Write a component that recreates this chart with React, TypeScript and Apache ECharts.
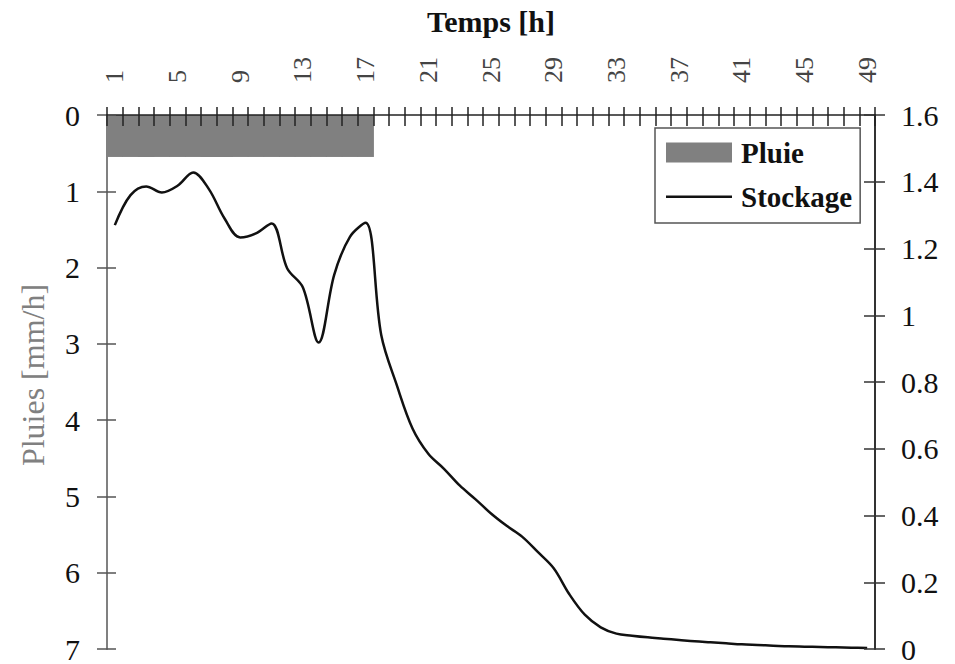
import React, { useEffect, useRef } from "react";
import * as echarts from "echarts";

const hours = [
  "1", "2", "3", "4", "5", "6", "7", "8", "9", "10",
  "11", "12", "13", "14", "15", "16", "17", "18", "19", "20",
  "21", "22", "23", "24", "25", "26", "27", "28", "29", "30",
  "31", "32", "33", "34", "35", "36", "37", "38", "39", "40",
  "41", "42", "43", "44", "45", "46", "47", "48", "49",
];

// Pluie [mm/h]
const pluie = [
  0.55, 0.55, 0.55, 0.55, 0.55, 0.55, 0.55, 0.55, 0.55, 0.55,
  0.55, 0.55, 0.55, 0.55, 0.55, 0.55, 0.55, null, null, null,
  null, null, null, null, null, null, null, null, null, null,
  null, null, null, null, null, null, null, null, null, null,
  null, null, null, null, null, null, null, null, null,
];

// Stockage
const stockage = [
  1.27, 1.36, 1.386, 1.368, 1.388, 1.428, 1.378, 1.29, 1.233, 1.245,
  1.275, 1.14, 1.083, 0.918, 1.122, 1.235, 1.277, 0.94, 0.789, 0.66,
  0.585, 0.54, 0.49, 0.449, 0.406, 0.369, 0.336, 0.29, 0.242, 0.164,
  0.102, 0.065, 0.046, 0.04, 0.035, 0.031, 0.027, 0.023, 0.02, 0.017,
  0.014, 0.012, 0.01, 0.008, 0.007, 0.006, 0.005, 0.004, 0.003,
];

const FONT = "Liberation Serif";
const LINE_ICON = "path://M0,0 L0,0 Z M0,9 L66,9 L66,11.5 L0,11.5 Z M66,20 L66,20 Z";

export default function App() {
  const ref = useRef<HTMLDivElement>(null);

  useEffect(() => {
    if (!ref.current) return;
    const chart = echarts.init(ref.current, undefined, { renderer: "svg" });
    chart.setOption({
      animation: false,
      backgroundColor: "#ffffff",
      textStyle: { fontFamily: FONT },
      grid: { left: 107, right: 80, top: 115, bottom: 13, containLabel: false },
      legend: {
        left: 655,
        top: 128,
        z: 20,
        orient: "vertical",
        padding: [10, 8, 12, 11],
        itemGap: 15,
        itemWidth: 66,
        itemHeight: 20,
        borderColor: "#555",
        borderWidth: 1.5,
        backgroundColor: "#fff",
        textStyle: {
          fontFamily: FONT,
          fontSize: 29,
          fontWeight: "bold",
          color: "#111",
          padding: [0, 0, 0, 4],
        },
        data: [
          { name: "Pluie", icon: "rect" },
          { name: "Stockage", icon: LINE_ICON, itemStyle: { color: "#111", borderWidth: 0 } },
        ],
      },
      xAxis: [
        {
          type: "category",
          position: "top",
          data: hours,
          boundaryGap: true,
          z: 10,
          name: "Temps [h]",
          nameLocation: "middle",
          nameGap: 79,
          nameTextStyle: { fontFamily: FONT, fontSize: 30, fontWeight: "bold", color: "#111" },
          axisLine: { show: true, lineStyle: { color: "#222", width: 1.5 } },
          axisTick: { show: true, interval: 0, inside: false, length: 8, lineStyle: { color: "#222", width: 1.5 } },
          axisLabel: {
            interval: 3,
            rotate: 90,
            margin: 32,
            fontFamily: FONT,
            fontSize: 26,
            color: "#444",
          },
          splitLine: { show: false },
        },
        {
          type: "category",
          position: "top",
          data: hours,
          boundaryGap: true,
          z: 10,
          axisLine: { show: false },
          axisTick: { show: true, interval: 0, inside: true, length: 11, lineStyle: { color: "#222", width: 1.5 } },
          axisLabel: { show: false },
          splitLine: { show: false },
        },
      ],
      yAxis: [
        {
          type: "value",
          position: "left",
          inverse: true,
          min: 0,
          max: 7,
          interval: 1,
          z: 10,
          name: "Pluies [mm/h]",
          nameLocation: "middle",
          nameRotate: 90,
          nameGap: 58,
          nameTextStyle: { fontFamily: FONT, fontSize: 32, color: "#808080", padding: [0, 0, 0, 14] },
          axisLine: { show: true, lineStyle: { color: "#808080", width: 2 } },
          axisTick: { show: true, inside: false, length: 10, lineStyle: { color: "#555", width: 1.5 } },
          axisLabel: { margin: 27, fontFamily: FONT, fontSize: 30, color: "#111" },
          splitLine: { show: false },
        },
        {
          type: "value",
          position: "left",
          inverse: true,
          min: 0,
          max: 7,
          interval: 1,
          z: 10,
          axisLine: { show: false },
          axisTick: { show: true, inside: true, length: 9, lineStyle: { color: "#555", width: 1.5 } },
          axisLabel: { show: false },
          splitLine: { show: false },
        },
        {
          type: "value",
          position: "right",
          min: 0,
          max: 1.6,
          interval: 0.2,
          z: 10,
          axisLine: { show: true, lineStyle: { color: "#333", width: 2 } },
          axisTick: { show: true, inside: false, length: 10, lineStyle: { color: "#333", width: 1.5 } },
          axisLabel: { margin: 26, fontFamily: FONT, fontSize: 30, color: "#111" },
          splitLine: { show: false },
        },
        {
          type: "value",
          position: "right",
          min: 0,
          max: 1.6,
          interval: 0.2,
          z: 10,
          axisLine: { show: false },
          axisTick: { show: true, inside: true, length: 11, lineStyle: { color: "#333", width: 1.5 } },
          axisLabel: { show: false },
          splitLine: { show: false },
        },
      ],
      series: [
        {
          name: "Pluie",
          type: "bar",
          xAxisIndex: 0,
          yAxisIndex: 0,
          z: 1,
          data: pluie,
          barWidth: "106%",
          barGap: "0%",
          itemStyle: { color: "#808080" },
        },
        {
          name: "Stockage",
          type: "line",
          xAxisIndex: 0,
          yAxisIndex: 2,
          z: 2,
          data: stockage,
          smooth: 0.35,
          symbol: "none",
          lineStyle: { color: "#111", width: 2.5 },
          itemStyle: { color: "#111" },
        },
      ],
    });
    return () => chart.dispose();
  }, []);

  return (
    <div
      ref={ref}
      style={{ position: "fixed", left: 0, top: 0, width: 955, height: 664, background: "#fff" }}
    />
  );
}
